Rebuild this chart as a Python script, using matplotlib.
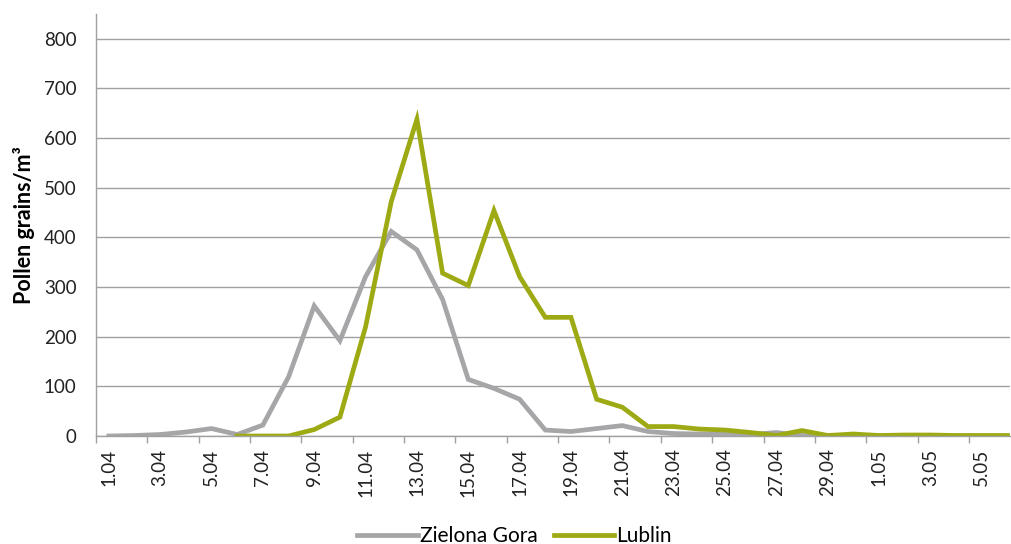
import numpy as np
import matplotlib.pyplot as plt

plt.rcParams['font.family'] = ['Lato', 'DejaVu Sans']

# dates 1.04 - 6.05
dates = [f'{d}.04' for d in range(1, 31)] + [f'{d}.05' for d in range(1, 7)]

zielona_gora = [0, 1, 3, 8, 15, 3, 22, 119, 262, 192, 321, 412, 375, 275, 114, 96,
                74, 12, 9, 15, 21, 9, 5, 4, 5, 3, 7, 1, 0, 0, 0, 1, 1, 0, 0, 0]
lublin = [np.nan, np.nan, np.nan, np.nan, np.nan, 0, 0, 0, 13, 38, 220, 472, 638, 328, 303, 454,
          321, 239, 239, 74, 58, 19, 19, 14, 12, 7, 1, 11, 1, 4, 1, 2, 2, 1, 1, 1]

gray = '#A6A6A9'
green = '#9DAA14'

fig = plt.figure(figsize=(10.11, 5.44), dpi=100)
ax = fig.add_axes([96 / 1011, 1 - 436 / 544, (1010 - 96) / 1011, (436 - 14) / 544])

x = np.arange(len(dates))
ax.plot(x, zielona_gora, color=gray, linewidth=3.4, label='Zielona Gora', solid_joinstyle='miter')
ax.plot(x, lublin, color=green, linewidth=3.4, label='Lublin', solid_joinstyle='miter')

ax.set_ylim(0, 850)
ax.set_yticks(np.arange(0, 801, 100))
ax.set_xlim(-0.5, 35.1)
ax.set_xticks(x[::2])
ax.set_xticklabels(dates[::2], rotation=90)
ax.set_xticks(np.arange(-0.5, 35, 2), minor=True)
ax.tick_params(axis='x', which='major', length=0, pad=9, labelsize=13.5, colors='#222222')
ax.tick_params(axis='x', which='minor', length=5, color='#A0A0A0', width=1)
ax.tick_params(axis='y', length=0, pad=14, labelsize=13.5, colors='#222222')

ax.grid(axis='y', color='#A0A0A0', linewidth=1)
ax.set_axisbelow(True)
for s in ['top', 'right']:
    ax.spines[s].set_visible(False)
for s in ['left', 'bottom']:
    ax.spines[s].set_color('#A0A0A0')
    ax.spines[s].set_linewidth(1)

ax.set_ylabel('Pollen grains/m³', fontsize=15.5, fontweight='bold', labelpad=6)

ax.legend(loc='center', bbox_to_anchor=(0.458, -0.237), ncol=2, frameon=False,
          fontsize=15, handlelength=2.9, handletextpad=0.1, columnspacing=0.8)

plt.savefig('out.png', dpi=100)
